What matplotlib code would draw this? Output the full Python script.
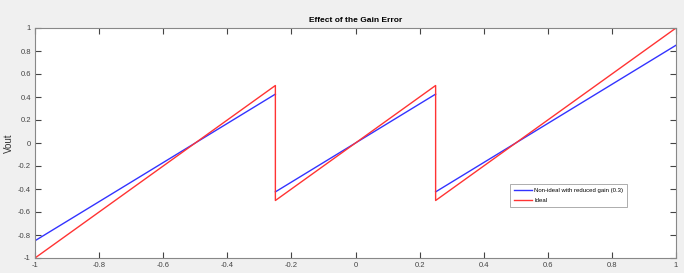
import matplotlib
matplotlib.use("Agg")
import matplotlib.pyplot as plt
import numpy as np

# breakpoints of the sawtooth transfer curves
x_pts = [-1, -0.25, -0.25, 0.25, 0.25, 1]
ideal = [-1, 0.5, -0.5, 0.5, -0.5, 1]
reduced = [-0.85, 0.425, -0.425, 0.425, -0.425, 0.85]
ticks = [-1, -0.8, -0.6, -0.4, -0.2, 0, 0.2, 0.4, 0.6, 0.8, 1]
tick_labels = ["-1", "-0.8", "-0.6", "-0.4", "-0.2", "0", "0.2", "0.4", "0.6", "0.8", "1"]

plt.rcParams['font.family'] = ['Liberation Sans Narrow', 'Liberation Sans', 'DejaVu Sans']

fig = plt.figure(figsize=(6.84, 2.73), dpi=100, facecolor="#f0f0f0")
ax = fig.add_axes([35/684, 15/273, 641/684, 230/273])
ax.set_facecolor("white")

# blue curve drawn per ramp (no visible vertical jumps)
for i in range(0, len(x_pts), 2):
    ax.plot(x_pts[i:i+2], reduced[i:i+2], color="#3333ff", lw=1.0,
            label="Non-ideal with reduced gain (0.3)" if i == 0 else None)
ax.plot(x_pts, ideal, color="#ff3333", lw=1.0, label="Ideal")

ax.set_xlim(-1, 1)
ax.set_ylim(-1, 1)
ax.set_xticks(ticks)
ax.set_xticklabels(tick_labels)
ax.set_yticks(ticks)
ax.set_yticklabels(tick_labels)
ax.tick_params(direction="in", length=4, width=0.8, labelsize=5.5, top=True, right=True,
               colors="#444444", pad=3)
for s in ax.spines.values():
    s.set_color("#888888")
    s.set_linewidth(0.8)

ax.set_title("Effect of the Gain Error", fontsize=6, fontweight="bold", pad=4)
ax.set_ylabel("Vout", fontsize=7, color="#333333", labelpad=3)

leg = ax.legend(loc="upper left", bbox_to_anchor=(0.736, 0.335), fontsize=4.3,
                frameon=True, fancybox=False, edgecolor="#888888", borderpad=0.7,
                handlelength=3.0, handletextpad=0.4, labelspacing=0.7)
leg.get_frame().set_linewidth(0.6)

fig.savefig("out.png", dpi=100, facecolor=fig.get_facecolor())
